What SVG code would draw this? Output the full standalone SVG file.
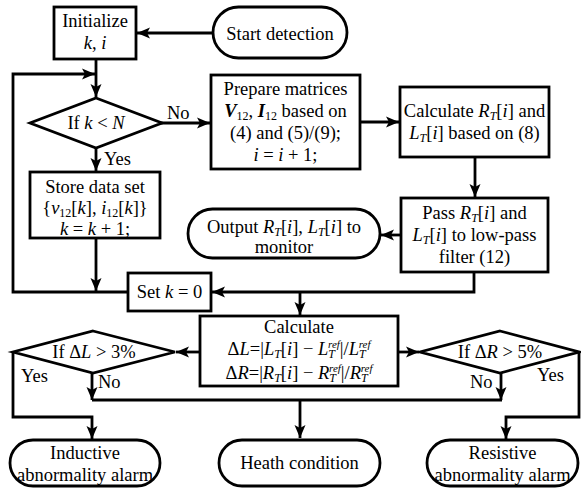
<svg xmlns="http://www.w3.org/2000/svg" width="581" height="490" viewBox="0 0 581 490">
<style>
.b{fill:#fff;stroke:#000;stroke-width:2.8}
.c{fill:none;stroke:#000;stroke-width:2.8}
text{font-family:'Liberation Serif','Times New Roman','DejaVu Serif',serif;font-size:18.5px;fill:#000;text-anchor:middle}
.i{font-style:italic}
.bi{font-style:italic;font-weight:bold}
.s{font-size:12px}
.r{font-size:11px}
.l{text-anchor:start}
</style>
<defs>
<marker id="a" markerUnits="userSpaceOnUse" markerWidth="14" markerHeight="12" refX="13" refY="6" orient="auto">
<path d="M0,0.5 L13,6 L0,11.5 L3,6 z" fill="#000"/>
</marker>
</defs>
<rect width="581" height="490" fill="#fff"/>
<g id="connectors" class="c">
<path d="M213,33 H137" marker-end="url(#a)"/>
<path d="M96,59 V97" marker-end="url(#a)"/>
<path d="M128,292 H13 V74 H95" marker-end="url(#a)"/>
<path d="M160,123 H210" marker-end="url(#a)"/>
<path d="M96,147 V171" marker-end="url(#a)"/>
<path d="M96,238 V291" marker-end="url(#a)"/>
<path d="M360,122 H399" marker-end="url(#a)"/>
<path d="M475,157 V197" marker-end="url(#a)"/>
<path d="M401,235 H381" marker-end="url(#a)"/>
<path d="M474,272 V292 H212" marker-end="url(#a)"/>
<path d="M300,292 V315" marker-end="url(#a)"/>
<path d="M200,352 H176" marker-end="url(#a)"/>
<path d="M398,352 H419" marker-end="url(#a)"/>
<path d="M13,352 V417 H92 V439" marker-end="url(#a)"/>
<path d="M92,372 V400" marker-end="url(#a)"/>
<path d="M92,400 H502"/>
<path d="M501,372 V400" marker-end="url(#a)"/>
<path d="M300,400 V438" marker-end="url(#a)"/>
<path d="M579,352 V417 H506 V439" marker-end="url(#a)"/>
</g>
<g id="start"><rect class="b" x="213" y="7" width="134" height="51" rx="25.5"/><text x="280" y="40">Start detection</text></g>
<g id="init"><rect class="b" x="54" y="7" width="82" height="52"/><text x="95" y="27">Initialize</text><text x="95" y="49"><tspan class="i">k</tspan>, <tspan class="i">i</tspan></text></g>
<g id="cond1"><path class="b" d="M96,98 L162,123 L96,148 L30,123 z"/><text x="96" y="129">If <tspan class="i">k</tspan> &lt; <tspan class="i">N</tspan></text></g>
<g id="prepare"><rect class="b" x="211" y="75" width="149" height="94"/>
<text x="285.5" y="95">Prepare matrices</text>
<text x="285.5" y="117"><tspan class="bi">V</tspan><tspan class="s" dy="3">12</tspan><tspan dy="-3">, </tspan><tspan class="bi">I</tspan><tspan class="s" dy="3">12</tspan><tspan dy="-3"> based on</tspan></text>
<text x="285.5" y="139">(4) and (5)/(9);</text>
<text x="285.5" y="161"><tspan class="i">i</tspan> = <tspan class="i">i</tspan> + 1;</text></g>
<g id="store"><rect class="b" x="30" y="172" width="130" height="66"/>
<text x="95" y="193">Store data set</text>
<text x="95" y="214">{<tspan class="i">v</tspan><tspan class="s" dy="3">12</tspan><tspan dy="-3">[</tspan><tspan class="i">k</tspan>],  <tspan class="i">i</tspan><tspan class="s" dy="3">12</tspan><tspan dy="-3">[</tspan><tspan class="i">k</tspan>]}</text>
<text x="95" y="235"><tspan class="i">k</tspan> = <tspan class="i">k</tspan> + 1;</text></g>
<g id="calcRL"><rect class="b" x="400" y="87" width="149" height="70"/>
<text x="474.5" y="117">Calculate <tspan class="i">R</tspan><tspan class="s i" dy="3">T</tspan><tspan dy="-3">[</tspan><tspan class="i">i</tspan>] and</text>
<text x="474.5" y="139"><tspan class="i">L</tspan><tspan class="s i" dy="3">T</tspan><tspan dy="-3">[</tspan><tspan class="i">i</tspan>] based on (8)</text></g>
<g id="pass"><rect class="b" x="401" y="198" width="147" height="74"/>
<text x="474.5" y="219">Pass <tspan class="i">R</tspan><tspan class="s i" dy="3">T</tspan><tspan dy="-3">[</tspan><tspan class="i">i</tspan>] and</text>
<text x="474.5" y="241"><tspan class="i">L</tspan><tspan class="s i" dy="3">T</tspan><tspan dy="-3">[</tspan><tspan class="i">i</tspan>] to low-pass</text>
<text x="474.5" y="263">filter (12)</text></g>
<g id="output"><rect class="b" x="188" y="209" width="192" height="49" rx="24.5"/>
<text x="284" y="233">Output <tspan class="i">R</tspan><tspan class="s i" dy="3">T</tspan><tspan dy="-3">[</tspan><tspan class="i">i</tspan>], <tspan class="i">L</tspan><tspan class="s i" dy="3">T</tspan><tspan dy="-3">[</tspan><tspan class="i">i</tspan>] to</text>
<text x="284" y="253">monitor</text></g>
<g id="setk"><rect class="b" x="128" y="273" width="83" height="38"/><text x="169.5" y="298">Set <tspan class="i">k</tspan> = 0</text></g>
<g id="calcD"><rect class="b" x="200" y="316" width="198" height="70"/>
<text x="299" y="333">Calculate</text>
<text x="299" y="355">Δ<tspan class="i">L</tspan>=|<tspan class="i">L</tspan><tspan class="s i" dy="3">T</tspan><tspan dy="-3">[</tspan><tspan class="i">i</tspan>] − <tspan class="i">L</tspan><tspan class="s i" dy="3">T</tspan><tspan class="r i" dx="-7" dy="-10">ref</tspan><tspan dy="7">|/</tspan><tspan class="i">L</tspan><tspan class="s i" dy="3">T</tspan><tspan class="r i" dx="-7" dy="-10">ref</tspan></text>
<text x="299" y="379">Δ<tspan class="i">R</tspan>=|<tspan class="i">R</tspan><tspan class="s i" dy="3">T</tspan><tspan dy="-3">[</tspan><tspan class="i">i</tspan>] − <tspan class="i">R</tspan><tspan class="s i" dy="3">T</tspan><tspan class="r i" dx="-7" dy="-10">ref</tspan><tspan dy="7">|/</tspan><tspan class="i">R</tspan><tspan class="s i" dy="3">T</tspan><tspan class="r i" dx="-7" dy="-10">ref</tspan></text></g>
<g id="condL"><path class="b" d="M93,331 L175,352 L93,373 L13,352 z"/><text x="94" y="358">If Δ<tspan class="i">L</tspan> &gt; 3%</text></g>
<g id="condR"><path class="b" d="M500,331 L579,352 L500,373 L420,352 z"/><text x="500" y="358">If Δ<tspan class="i">R</tspan> &gt; 5%</text></g>
<g id="labels">
<text class="l" x="167" y="119">No</text>
<text class="l" x="104" y="165">Yes</text>
<text class="l" x="21" y="382">Yes</text>
<text class="l" x="98" y="388">No</text>
<text class="l" x="470" y="388">No</text>
<text class="l" x="537" y="381">Yes</text>
</g>
<g id="inductive"><rect class="b" x="10" y="440" width="150" height="46" rx="23"/><text x="85" y="459">Inductive</text><text x="85" y="481">abnormality alarm</text></g>
<g id="health"><rect class="b" x="219" y="440" width="161" height="46" rx="23"/><text x="299.5" y="469">Heath condition</text></g>
<g id="resistive"><rect class="b" x="427" y="440" width="151" height="46" rx="23"/><text x="502.5" y="459">Resistive</text><text x="502.5" y="481">abnormality alarm</text></g>
</svg>
